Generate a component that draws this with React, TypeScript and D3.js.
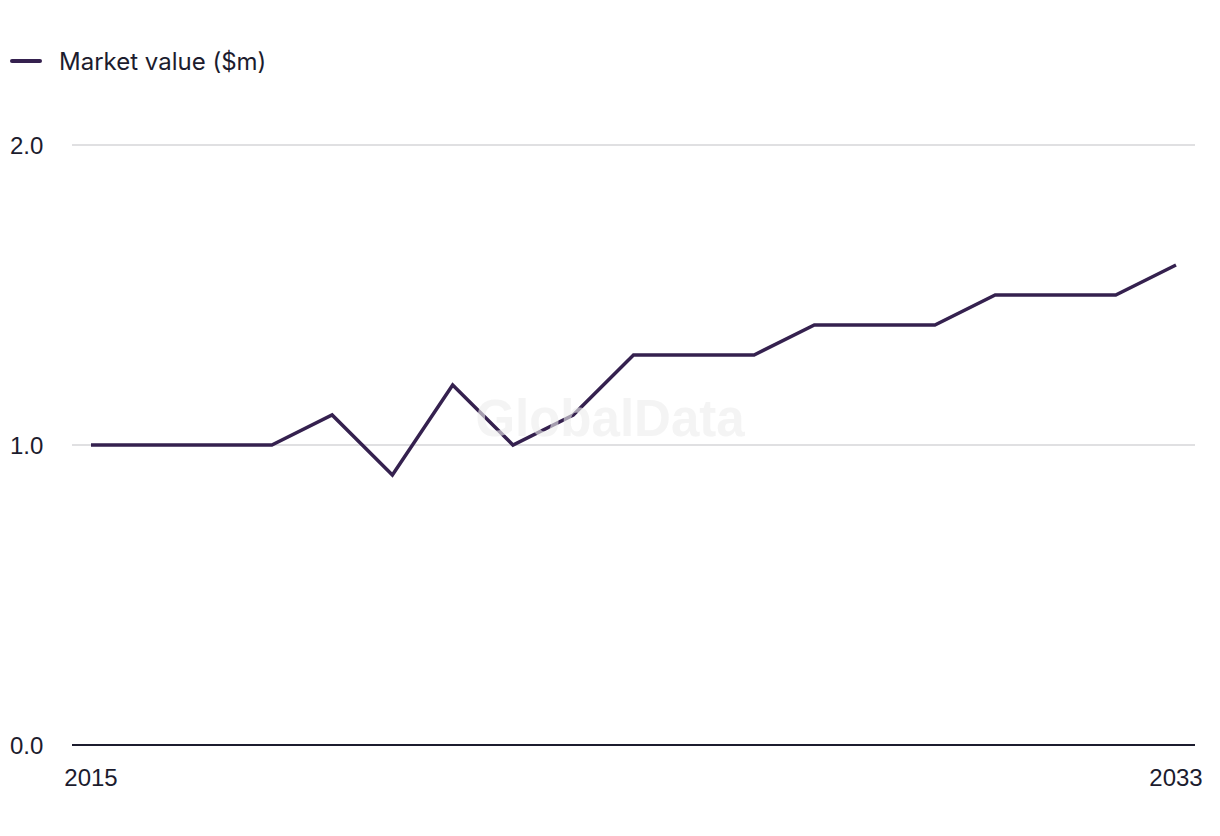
import React, { useEffect, useRef } from "react";
import * as d3 from "d3";

const years: number[] = [2015, 2016, 2017, 2018, 2019, 2020, 2021, 2022, 2023, 2024, 2025, 2026, 2027, 2028, 2029, 2030, 2031, 2032, 2033];
const marketValue: number[] = [1.0, 1.0, 1.0, 1.0, 1.1, 0.9, 1.2, 1.0, 1.1, 1.3, 1.3, 1.3, 1.4, 1.4, 1.4, 1.5, 1.5, 1.5, 1.6];
const yTicks: number[] = [0, 1, 2];
const xTickLabels: number[] = [2015, 2033];
const seriesName = "Market value ($m)";

const W = 1220;
const H = 836;

export default function App() {
  const ref = useRef<SVGSVGElement>(null);

  useEffect(() => {
    const svg = d3.select(ref.current);
    svg.selectAll("*").remove();

    const x = d3.scaleLinear().domain([2015, 2033]).range([91, 1176]);
    const y = d3.scaleLinear().domain([0, 2]).range([745, 145]);
    const font = "'Liberation Sans', Arial, sans-serif";

    // gridlines
    svg.append("g")
      .selectAll("line")
      .data(yTicks.filter((t) => t !== 0))
      .join("line")
      .attr("x1", 72)
      .attr("x2", 1195)
      .attr("y1", (d) => y(d))
      .attr("y2", (d) => y(d))
      .attr("stroke", "#d6d6d9")
      .attr("stroke-width", 1.5);

    // y labels
    svg.append("g")
      .selectAll("text")
      .data(yTicks)
      .join("text")
      .attr("x", 10)
      .attr("y", (d) => y(d))
      .attr("dy", "0.36em")
      .attr("font-family", font)
      .attr("font-size", 24)
      .attr("fill", "#1c1c2e")
      .text((d) => d3.format(".1f")(d));

    // x axis line
    svg.append("line")
      .attr("x1", 72)
      .attr("x2", 1195)
      .attr("y1", y(0))
      .attr("y2", y(0))
      .attr("stroke", "#1c1c2e")
      .attr("stroke-width", 2);

    // x labels
    svg.append("g")
      .selectAll("text")
      .data(xTickLabels)
      .join("text")
      .attr("x", (d) => x(d))
      .attr("y", 786)
      .attr("text-anchor", "middle")
      .attr("font-family", font)
      .attr("font-size", 24)
      .attr("fill", "#1c1c2e")
      .text((d) => String(d));

    // line
    const line = d3.line<number>()
      .x((_, i) => x(years[i]))
      .y((d) => y(d));
    svg.append("path")
      .datum(marketValue)
      .attr("d", line)
      .attr("fill", "none")
      .attr("stroke", "#35214f")
      .attr("stroke-width", 3.5)
      .attr("stroke-linejoin", "miter");

    // watermark
    svg.append("text")
      .attr("x", 610)
      .attr("y", 436)
      .attr("text-anchor", "middle")
      .attr("font-family", font)
      .attr("font-weight", "bold")
      .attr("font-size", 51)
      .attr("fill", "#eeeeee")
      .attr("opacity", 0.6)
      .text("GlobalData");

    // legend
    svg.append("line")
      .attr("x1", 12)
      .attr("x2", 40)
      .attr("y1", 61)
      .attr("y2", 61)
      .attr("stroke", "#35214f")
      .attr("stroke-width", 4)
      .attr("stroke-linecap", "round");
    svg.append("text")
      .attr("x", 59)
      .attr("y", 61)
      .attr("dy", "0.36em")
      .attr("font-family", "Inter, 'Liberation Sans', sans-serif")
      .attr("font-size", 24)
      .attr("fill", "#1c1c2e")
      .text(seriesName);
  }, []);

  return (
    <svg
      ref={ref}
      width={W}
      height={H}
      style={{ position: "absolute", left: 0, top: 0, background: "#fff" }}
    />
  );
}
